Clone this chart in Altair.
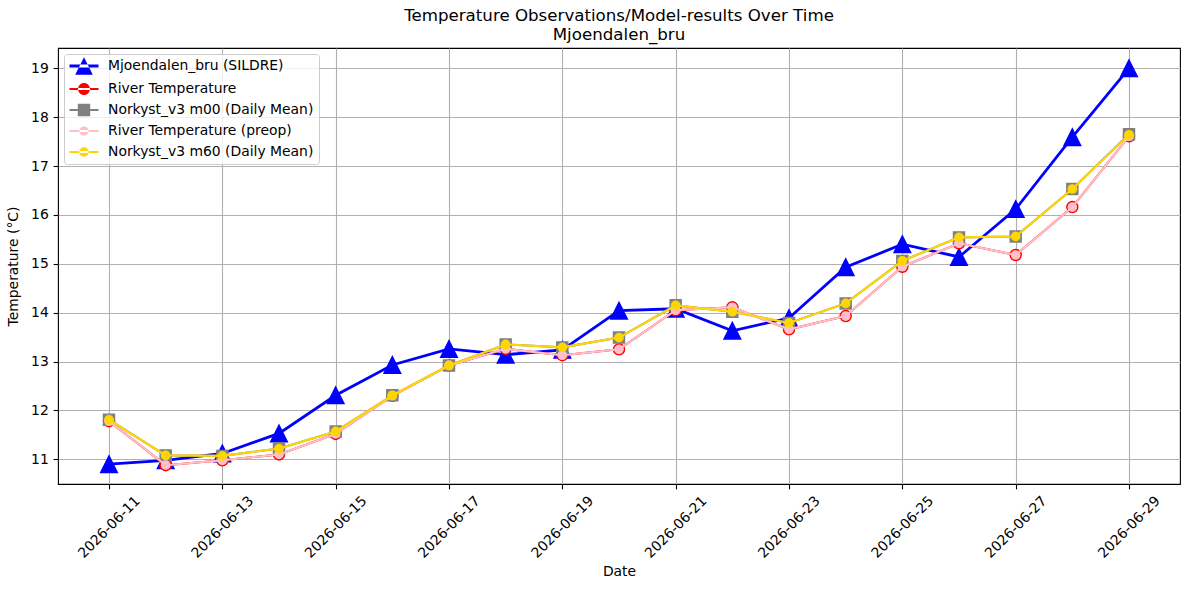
import altair as alt
import pandas as pd

# Daily observations and model results, Mjoendalen_bru
dates = [
    "2026-06-11", "2026-06-12", "2026-06-13", "2026-06-14", "2026-06-15",
    "2026-06-16", "2026-06-17", "2026-06-18", "2026-06-19", "2026-06-20",
    "2026-06-21", "2026-06-22", "2026-06-23", "2026-06-24", "2026-06-25",
    "2026-06-26", "2026-06-27", "2026-06-28", "2026-06-29",
]
sildre = [10.90, 10.98, 11.12, 11.53, 12.31, 12.93, 13.26, 13.14, 13.24, 14.04,
          14.08, 13.63, 13.89, 14.93, 15.40, 15.14, 16.12, 17.59, 19.00]
river_temp = [11.78, 10.88, 10.98, 11.10, 11.52, 12.30, 12.92, 13.26, 13.13, 13.25,
              14.05, 14.11, 13.66, 13.93, 14.94, 15.42, 15.18, 16.16, 17.61]
norkyst_m00 = [11.81, 11.08, 11.07, 11.22, 11.57, 12.31, 12.92, 13.35, 13.29, 13.49,
               14.15, 14.02, 13.79, 14.19, 15.06, 15.54, 15.56, 16.53, 17.65]
river_temp_preop = [11.78, 10.88, 10.98, 11.10, 11.52, 12.30, 12.92, 13.26, 13.13, 13.25,
                    14.05, 14.11, 13.66, 13.93, 14.94, 15.42, 15.18, 16.16, 17.61]
norkyst_m60 = [11.81, 11.08, 11.07, 11.22, 11.57, 12.31, 12.92, 13.35, 13.29, 13.49,
               14.15, 14.02, 13.79, 14.19, 15.06, 15.54, 15.56, 16.53, 17.64]

series_names = [
    "Mjoendalen_bru (SILDRE)",
    "River Temperature",
    "Norkyst_v3 m00 (Daily Mean)",
    "River Temperature (preop)",
    "Norkyst_v3 m60 (Daily Mean)",
]
series_values = [sildre, river_temp, norkyst_m00, river_temp_preop, norkyst_m60]
series_colors = ["#0000ff", "#ff0000", "#808080", "#ffc0cb", "#ffd700"]
line_widths = [2.78, 2.08, 2.08, 2.08, 2.08]

TRIANGLE = "M0,-1L-1,1L1,1Z"
marker_shapes = [TRIANGLE, "circle", "square", "circle", "circle"]
marker_sizes = [279, 123, 123, 69, 69]

FONT = "DejaVu Sans"

rows = []
for name, vals in zip(series_names, series_values):
    for d, v in zip(dates, vals):
        rows.append({"date": d, "series": name, "value": v})
df = pd.DataFrame(rows)


def utc_day(s, hours=0, minutes=0):
    y, m, d = (int(p) for p in s.split("-"))
    return alt.DateTime(year=y, month=m, date=d, hours=hours, minutes=minutes, utc=True)


x_enc = alt.X(
    "date:T",
    title="Date",
    scale=alt.Scale(type="utc", domain=[utc_day("2026-06-10", 2, 24), utc_day("2026-06-29", 21, 36)]),
    axis=alt.Axis(
        values=[utc_day(d) for d in dates[::2]],
        format="%Y-%m-%d",
        labelAngle=-45,
        labelAlign="center",
        labelBaseline="middle",
        labelPadding=38,
        grid=True,
        titlePadding=4,
    ),
)
y_enc = alt.Y(
    "value:Q",
    title="Temperature (°C)",
    scale=alt.Scale(domain=[10.495, 19.415], nice=False, zero=False),
    axis=alt.Axis(values=list(range(11, 20)), grid=True, titlePadding=10),
)


# Legend symbols: a short line segment with the series marker on top
def hbar(half_len, half_w):
    return f"M{-half_len},{-half_w}L{half_len},{-half_w}L{half_len},{half_w}L{-half_len},{half_w}Z"


def circ(r):
    return f"M{-r},0A{r},{r} 0 1,0 {r},0A{r},{r} 0 1,0 {-r},0Z"


def sq(h):
    return f"M{-h},{-h}L{h},{-h}L{h},{h}L{-h},{h}Z"


def tri(h):
    return f"M0,{-h}L{-h},{h}L{h},{h}Z"


U = 7.0  # px per legend path unit (symbolSize 196)
HALF = 14.5 / U
legend_paths = [
    hbar(HALF, 1.39 / U) + tri(8.8 / U),
    hbar(HALF, 1.04 / U) + circ(6.0 / U),
    hbar(HALF, 1.04 / U) + sq(6.2 / U),
    hbar(HALF, 1.04 / U) + circ(4.6 / U),
    hbar(HALF, 1.04 / U) + circ(4.7 / U),
]

layers = []
for name, color, lw, shp, size in zip(series_names, series_colors, line_widths, marker_shapes, marker_sizes):
    sub = df[df["series"] == name]
    base = alt.Chart(sub).encode(x=x_enc, y=y_enc)
    layers.append(base.mark_line(color=color, strokeWidth=lw))
    layers.append(
        base.mark_point(filled=True, fill=color, stroke=color, strokeWidth=1.39,
                        opacity=1, shape=shp, size=size)
    )

legend_def = alt.Legend(
    title=None,
    orient="top-left",
    offset=6,
    padding=5,
    symbolSize=196,
    symbolStrokeWidth=0,
    symbolOffset=8,
    labelOffset=17,
    rowPadding=7,
    labelFontSize=13.9,
    labelFont=FONT,
    labelColor="black",
    labelLimit=400,
    fillColor="rgba(255,255,255,0.8)",
    strokeColor="#cccccc",
    cornerRadius=3,
)
legend_layer = (
    alt.Chart(df)
    .transform_filter("false")
    .mark_point(filled=True, opacity=1)
    .encode(
        color=alt.Color("series:N", scale=alt.Scale(domain=series_names, range=series_colors),
                        sort=series_names, legend=legend_def),
        shape=alt.Shape("series:N", scale=alt.Scale(domain=series_names, range=legend_paths),
                        sort=series_names, legend=legend_def),
    )
)
layers.append(legend_layer)

chart = (
    alt.layer(*layers)
    .properties(
        width=1122,
        height=436,
        title=alt.TitleParams(
            text=["Temperature Observations/Model-results Over Time", "Mjoendalen_bru"],
            fontSize=16.67,
            font=FONT,
            fontWeight="normal",
            color="black",
            anchor="middle",
            lineHeight=19.5,
            offset=4,
        ),
        autosize=alt.AutoSizeParams(type="none"),
        padding={"left": 58, "top": 48, "right": 9, "bottom": 106},
    )
    .configure(background="white")
    .configure_view(stroke="black", strokeWidth=1.1)
    .configure_axis(
        labelFont=FONT,
        titleFont=FONT,
        labelFontSize=13.9,
        titleFontSize=13.9,
        titleFontWeight="normal",
        labelColor="black",
        titleColor="black",
        gridColor="#b0b0b0",
        gridWidth=1.1,
        gridOpacity=1,
        domain=False,
        tickColor="black",
        tickWidth=1.1,
        tickSize=4.86,
        labelPadding=4.86,
    )
)

chart.save("out.html", embed_options={"renderer": "svg", "actions": False})
